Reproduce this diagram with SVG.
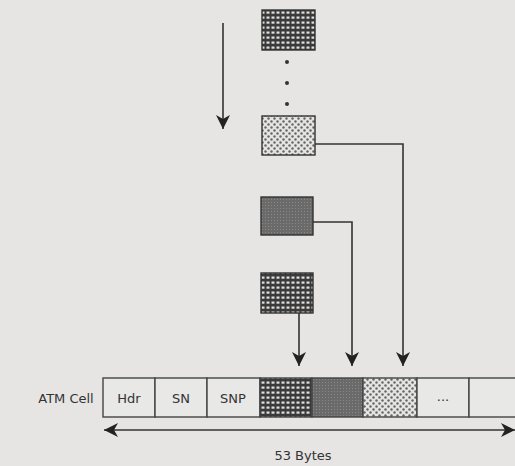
<svg xmlns="http://www.w3.org/2000/svg" width="515" height="466" viewBox="0 0 515 466">
<defs>
<style>
.ln{stroke:#333;stroke-width:1.6;fill:none}
.bx{stroke:#333;stroke-width:1.4}
.cell{fill:#e8e8e6;stroke:#444;stroke-width:1.4}
.t{font-family:"DejaVu Sans",sans-serif;font-size:13px;fill:#333;text-anchor:middle}
</style>
<pattern id="grid" width="5" height="5" patternUnits="userSpaceOnUse">
<rect width="5" height="5" fill="#3a3a3a"/><rect x="1.5" y="1.5" width="3" height="2.2" fill="#e0e0e0"/>
</pattern>
<pattern id="dots" width="6" height="6" patternUnits="userSpaceOnUse">
<rect width="6" height="6" fill="#e4e4e2"/><circle cx="1.5" cy="1.5" r="1.2" fill="#666"/><circle cx="4.5" cy="4.5" r="1.2" fill="#666"/>
</pattern>
<pattern id="stip" width="3" height="3" patternUnits="userSpaceOnUse">
<rect width="3" height="3" fill="#6a6a6a"/><rect x="1" y="1" width="1" height="1" fill="#8a8a8a"/>
</pattern>
<marker id="ah" viewBox="0 0 14 14" refX="14" refY="7" markerWidth="14" markerHeight="14" markerUnits="userSpaceOnUse" orient="auto-start-reverse">
<path d="M0,0 L14,7 L0,14 L4,7 Z" fill="#222"/>
</marker>
</defs>
<rect width="515" height="466" fill="#e6e5e3"/>
<g id="connectors">
<line class="ln" x1="223" y1="23" x2="223" y2="129" marker-end="url(#ah)"/>
<polyline class="ln" points="315,144 403,144 403,366" marker-end="url(#ah)"/>
<polyline class="ln" points="313,222 352,222 352,366" marker-end="url(#ah)"/>
<line class="ln" x1="299" y1="313" x2="299" y2="366" marker-end="url(#ah)"/>
<line class="ln" x1="104" y1="430" x2="515" y2="430" marker-start="url(#ah)" marker-end="url(#ah)"/>
</g>
<g id="block-top"><rect class="bx" x="262" y="10" width="53" height="40" fill="url(#grid)"/></g>
<g id="ellipsis-dots" fill="#333"><circle cx="287" cy="62" r="2"/><circle cx="287" cy="83" r="2"/><circle cx="287" cy="104" r="2"/></g>
<g id="block-dotted"><rect class="bx" x="262" y="116" width="53" height="39" fill="url(#dots)"/></g>
<g id="block-dark"><rect class="bx" x="261" y="197" width="52" height="38" fill="url(#stip)"/></g>
<g id="block-grid"><rect class="bx" x="261" y="273" width="52" height="40" fill="url(#grid)"/></g>
<g id="atm-cell">
<text class="t" x="66" y="403">ATM Cell</text>
<rect class="cell" x="103" y="378" width="52" height="39"/>
<rect class="cell" x="155" y="378" width="52" height="39"/>
<rect class="cell" x="207" y="378" width="53" height="39"/>
<rect class="cell" x="260" y="378" width="52" height="39" style="fill:url(#grid)"/>
<rect class="cell" x="312" y="378" width="51" height="39" style="fill:url(#stip)"/>
<rect class="cell" x="363" y="378" width="54" height="39" style="fill:url(#dots)"/>
<rect class="cell" x="417" y="378" width="52" height="39"/>
<rect class="cell" x="469" y="378" width="60" height="39"/>
<text class="t" x="129" y="403">Hdr</text>
<text class="t" x="181" y="403">SN</text>
<text class="t" x="233" y="403">SNP</text>
<text class="t" x="443" y="401">...</text>
</g>
<text class="t" x="303" y="460">53 Bytes</text>
</svg>
